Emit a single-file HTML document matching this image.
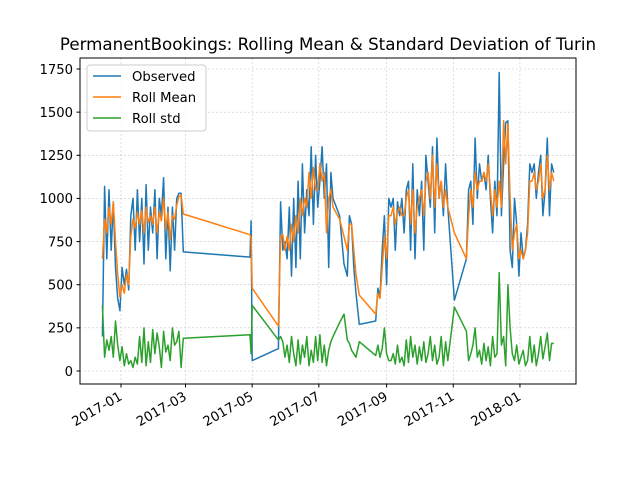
<!DOCTYPE html>
<html><head><meta charset="utf-8"><style>
body{margin:0;background:#fff;}
svg{display:block;font-family:"DejaVu Sans","Liberation Sans",sans-serif;}
</style></head><body>
<svg id="chart" width="640" height="480" viewBox="0 0 640 480">
<rect width="640" height="480" fill="#fff"/>
<text x="328" y="50" font-size="16.7" text-anchor="middle">PermanentBookings: Rolling Mean &amp; Standard Deviation of Turin</text>
<g id="grid"></g>
<g id="series"></g>
<rect x="80" y="58" width="496" height="326" fill="none" stroke="#000" stroke-width="1"/>
<g id="axes"></g>
<g id="legend">
<rect x="87" y="65" width="119" height="66" rx="3" fill="#fff" fill-opacity="0.8" stroke="#ccc"/>
<line x1="93" y1="76" x2="121" y2="76" stroke="#1f77b4" stroke-width="1.5"/>
<text x="132" y="81" font-size="13.2">Observed</text>
<line x1="93" y1="97" x2="121" y2="97" stroke="#ff7f0e" stroke-width="1.5"/>
<text x="132" y="102" font-size="13.2">Roll Mean</text>
<line x1="93" y1="118" x2="121" y2="118" stroke="#2ca02c" stroke-width="1.5"/>
<text x="132" y="123" font-size="13.2">Roll std</text>
</g>
</svg>
<script>
// days since 2017-01-01
const days = [-17,-15,-13,-11,-9,-7,-5,-3,-1,1,3,5,7,9,11,13,15,17,19,21,23,25,27,29,31,33,35,37,39,41,43,45,47,49,51,53,55,57,
118,119,120,144,
146,148,150,152,154,156,158,160,162,164,166,168,170,172,174,176,178,180,182,184,186,188,190,192,194,
200,204,207,209,211,213,215,218,
233,235,237,239,241,243,245,
247,249,251,253,255,257,259,261,263,265,267,269,271,273,275,277,279,281,283,285,287,289,291,293,295,297,299,
305,316,
318,320,322,324,326,328,330,332,334,336,338,340,342,344,346,348,350,352,354,356,358,360,362,364,366,368,370,372,374,376,378,380,382,384,386,388,390,392,394,396];
const observed = [200,1070,650,1050,700,980,600,420,350,600,500,590,470,900,1000,700,1050,750,1000,620,1080,700,950,800,1050,650,1000,900,1120,650,950,580,950,700,1000,1030,1030,690,
660,870,60,130,
980,700,750,650,950,550,1000,600,1100,650,1200,800,1050,900,1300,850,1250,950,1100,1300,1000,1200,600,1150,1000,
900,620,550,900,850,600,450,270,
290,480,430,700,900,500,1000,
950,1000,700,980,900,1000,800,1050,1100,700,1200,650,1050,900,1100,700,1250,1100,950,1300,800,1350,1000,1100,900,1200,950,
410,650,
1050,1100,850,1350,1000,1200,1100,1150,1050,1250,1000,800,1100,900,1730,900,1200,1440,1450,700,600,1000,850,550,800,650,700,850,1200,1150,1200,1000,1150,1250,900,1050,1350,900,1200,1150];
const rollMean = [650,880,800,950,850,980,750,560,430,500,450,560,500,780,880,830,920,850,930,800,950,860,900,850,950,800,920,870,1000,820,920,760,900,880,960,1010,1020,910,
790,770,480,260,
780,790,700,780,700,850,750,900,800,1000,900,1000,950,1150,1000,1180,1050,1050,1200,1100,1150,800,1000,1050,950,
880,780,700,850,850,700,560,440,
330,450,420,600,780,650,900,
900,950,850,920,950,900,900,1000,1050,850,1050,800,950,1000,1050,900,1100,1150,1000,1250,950,1200,1000,1100,950,1050,950,
800,650,
900,1050,950,1150,1050,1100,1100,1150,1100,1200,1050,900,1050,950,1100,950,1450,1200,1430,1000,700,800,850,650,700,650,700,800,1100,1100,1150,1050,1100,1200,1000,1050,1250,1050,1150,1100];
const rollStd = [380,80,180,120,200,80,290,150,60,140,30,100,40,60,20,80,40,200,50,250,30,170,50,240,100,220,140,20,230,110,150,60,250,150,170,230,20,190,
210,100,380,180,
200,170,80,150,50,200,100,30,180,40,150,80,200,30,120,50,200,60,210,50,150,30,120,170,200,
280,330,180,160,120,100,80,170,
90,150,80,130,250,100,60,
60,100,40,150,50,80,30,180,50,200,80,150,40,140,60,170,50,100,200,60,150,40,80,200,30,170,60,
370,230,
60,100,150,250,80,120,40,160,60,140,30,200,80,100,570,150,200,30,500,250,100,60,150,40,80,120,30,60,200,50,150,30,100,200,70,140,220,60,160,160];
const yTicks = [0,250,500,750,1000,1250,1500,1750];
const xTickDays = [0,59,120,181,243,304,365];
const xTickLabels = ["2017-01","2017-03","2017-05","2017-07","2017-09","2017-11","2018-01"];

const NS="http://www.w3.org/2000/svg";
const X = d => 121 + d*1.093;
const Y = v => 371 - v*0.17257;
const grid=document.getElementById('grid'), axes=document.getElementById('axes'), ser=document.getElementById('series');
function mk(tag, attrs, parent){const e=document.createElementNS(NS,tag);for(const k in attrs)e.setAttribute(k,attrs[k]);parent.appendChild(e);return e;}
yTicks.forEach(v=>{
  const y=Y(v);
  const g=mk('line',{x1:80,x2:576,y1:y,y2:y,stroke:'#c8c8c8','stroke-width':0.6,'stroke-dasharray':'2,2'},grid);
  
  
  const t=mk('line',{x1:76.5,x2:80,y1:y,y2:y,stroke:'#000'},axes);
  
  
  const l=mk('text',{x:73,y:y+4.8,'font-size':13.2,'text-anchor':'end'},axes);
  l.textContent=v;
  
  
});
xTickDays.forEach((d,i)=>{
  const x=X(d);
  const g=mk('line',{x1:x,x2:x,y1:58,y2:384,stroke:'#c8c8c8','stroke-width':0.6,'stroke-dasharray':'2,2'},grid);
  
  
  const t=mk('line',{x1:x,x2:x,y1:384,y2:387.5,stroke:'#000'},axes);
  
  
  const l=mk('text',{x:x+2,y:399,'font-size':13.2,'text-anchor':'end',transform:`rotate(-30 ${x+2} 399)`},axes);
  l.textContent=xTickLabels[i];
  
  
});
function line(vals,color,name){
  const p=vals.map((v,i)=>X(days[i]).toFixed(1)+','+Y(v).toFixed(1)).join(' ');
  const e=mk('polyline',{points:p,fill:'none',stroke:color,'stroke-width':1.5,'stroke-linejoin':'round'},ser);
  
  
}
line(observed,'#1f77b4','observed-line');
line(rollMean,'#ff7f0e','roll-mean-line');
line(rollStd,'#2ca02c','roll-std-line');
</script>
</body></html>
